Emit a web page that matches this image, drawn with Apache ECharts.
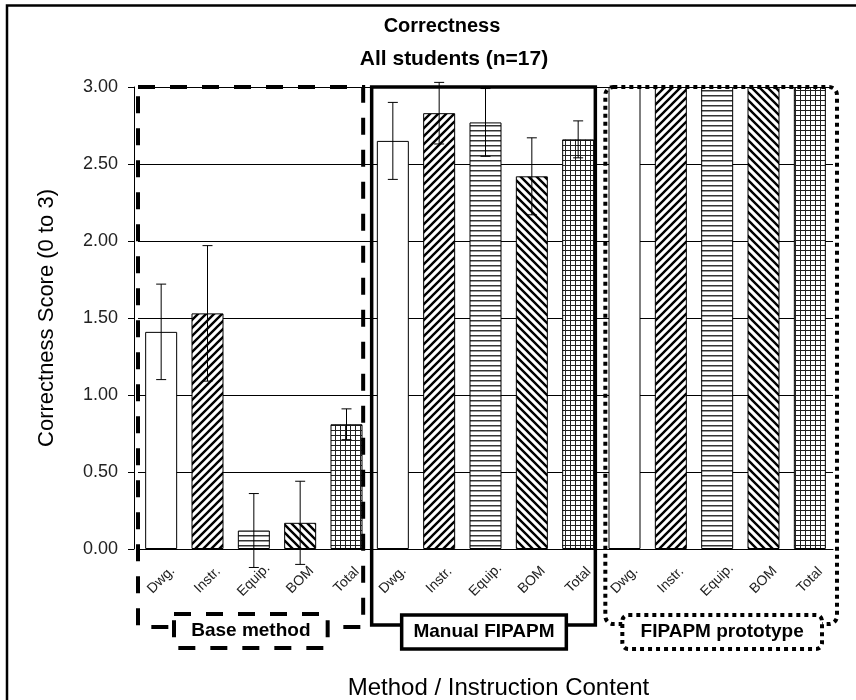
<!DOCTYPE html>
<html>
<head>
<meta charset="utf-8">
<script src="https://cdn.jsdelivr.net/npm/echarts@6/dist/echarts.min.js"></script>
<style>html,body{margin:0;padding:0;background:#fff;}#c{width:856px;height:700px;}</style>
</head>
<body>
<div id="c"></div>
<script>
// ---- data ----
const contentTypes = ['Dwg.', 'Instr.', 'Equip.', 'BOM', 'Total'];
const methods = ['Base method', 'Manual FIPAPM', 'FIPAPM prototype'];
const baseMethod = [1.41, 1.53, 0.12, 0.17, 0.81];
const manualFipapm = [2.65, 2.83, 2.77, 2.42, 2.66];
const fipapmPrototype = [3.00, 3.00, 3.00, 3.00, 3.00];
const baseErr = [0.31, 0.44, 0.24, 0.27, 0.10];
const manualErr = [0.25, 0.20, 0.22, 0.25, 0.12];
const prototypeErr = [0, 0, 0, 0, 0];
const yTicks = [0, 0.5, 1, 1.5, 2, 2.5, 3];

const categories = [].concat(contentTypes, contentTypes, contentTypes);
const means = [].concat(baseMethod, manualFipapm, fipapmPrototype);
const errs = [].concat(baseErr, manualErr, prototypeErr);

// ---- patterns ----
function makePattern(kind) {
  const c = document.createElement('canvas');
  let w = 8, h = 8;
  if (kind === 'h') { w = 4; h = 5; }
  if (kind === 'grid') { w = 5; h = 5; }
  c.width = w; c.height = h;
  const g = c.getContext('2d');
  g.fillStyle = '#fff'; g.fillRect(0, 0, w, h);
  g.strokeStyle = '#000';
  if (kind === 'fwd') {
    g.lineWidth = 2.4;
    g.beginPath();
    g.moveTo(-2, h + 2); g.lineTo(w + 2, -2);
    g.moveTo(-2, 2); g.lineTo(2, -2);
    g.moveTo(w - 2, h + 2); g.lineTo(w + 2, h - 2);
    g.stroke();
  } else if (kind === 'back') {
    g.lineWidth = 2.4;
    g.beginPath();
    g.moveTo(-2, -2); g.lineTo(w + 2, h + 2);
    g.moveTo(w - 2, -2); g.lineTo(w + 2, 2);
    g.moveTo(-2, h - 2); g.lineTo(2, h + 2);
    g.stroke();
  } else if (kind === 'h') {
    g.fillStyle = '#333';
    g.fillRect(0, 0, w, 1.5);
  } else if (kind === 'grid') {
    g.fillStyle = '#222';
    g.fillRect(0, 0, w, 1);
    g.fillRect(0, 0, 1, h);
  }
  return { image: c, repeat: 'repeat' };
}
const fills = ['#ffffff', makePattern('fwd'), makePattern('h'), makePattern('back'), makePattern('grid')];

const chart = echarts.init(document.getElementById('c'), null, { renderer: 'canvas' });

const barData = means.map((v, i) => ({
  value: v,
  itemStyle: { color: fills[i % 5], borderColor: '#000', borderWidth: 1 }
}));
const errData = means.map((v, i) => [i, v - errs[i], v + errs[i], errs[i]]);

const F = 'Liberation Sans, Arial';
const option = {
  backgroundColor: '#fff',
  animation: false,
  title: [
    { text: 'Correctness', left: 437, top: 11, textAlign: 'center',
      textStyle: { fontFamily: F, fontSize: 20, fontWeight: 'bold', color: '#000' } },
    { text: 'All students (n=17)', left: 449, top: 44, textAlign: 'center',
      textStyle: { fontFamily: F, fontSize: 21, fontWeight: 'bold', color: '#000' } }
  ],
  grid: { left: 138, right: 23, top: 87, bottom: 151, containLabel: false, outerBoundsMode: 'none' },
  xAxis: {
    type: 'category',
    data: categories,
    axisLine: { show: true, lineStyle: { color: '#000', width: 1 } },
    axisTick: { show: false },
    axisLabel: {
      interval: 0, rotate: 45, align: 'center', verticalAlign: 'middle', margin: 31,
      fontFamily: F, fontSize: 14, color: '#222'
    },
    name: 'Method / Instruction Content',
    nameLocation: 'middle',
    nameGap: 127,
    nameTextStyle: { fontFamily: F, fontSize: 24, color: '#000', padding: [0, 0, 0, 26] }
  },
  yAxis: {
    type: 'value', min: 0, max: 3, interval: 0.5,
    offset: 4,
    axisLine: { show: true, lineStyle: { color: '#000', width: 1 } },
    axisTick: { show: true, length: 6, lineStyle: { color: '#000' } },
    axisLabel: { formatter: v => v.toFixed(2), margin: 16, fontFamily: F, fontSize: 18, color: '#222' },
    splitLine: { show: true, lineStyle: { color: '#000', width: 1 } },
    name: 'Correctness Score (0 to 3)',
    nameLocation: 'middle',
    nameRotate: 90,
    nameGap: 76,
    nameTextStyle: { fontFamily: F, fontSize: 22, color: '#000' }
  },
  series: [
    {
      type: 'bar',
      data: barData,
      barWidth: 32,
      z: 2
    },
    {
      type: 'custom',
      data: errData,
      clip: false,
      z: 5,
      renderItem: function (params, api) {
        if (api.value(3) <= 0) return null;
        const i = api.value(0);
        const lo = api.coord([i, api.value(1)]);
        const hi = api.coord([i, api.value(2)]);
        const hw = 5;
        const st = { stroke: '#000', lineWidth: 1 };
        return {
          type: 'group',
          children: [
            { type: 'line', shape: { x1: lo[0], y1: lo[1], x2: hi[0], y2: hi[1] }, style: st },
            { type: 'line', shape: { x1: hi[0] - hw, y1: hi[1], x2: hi[0] + hw, y2: hi[1] }, style: st },
            { type: 'line', shape: { x1: lo[0] - hw, y1: lo[1], x2: lo[0] + hw, y2: lo[1] }, style: st }
          ]
        };
      }
    }
  ]
};
chart.setOption(option);

// ---- group boxes (annotation), positioned from axis scale ----
const cx0 = chart.convertToPixel({ xAxisIndex: 0 }, 0);
const cx1 = chart.convertToPixel({ xAxisIndex: 0 }, 1);
const bw = cx1 - cx0;
const b = i => cx0 - bw / 2 + i * bw;
const yTop = chart.convertToPixel({ yAxisIndex: 0 }, yTicks[yTicks.length - 1]);
const y0 = chart.convertToPixel({ yAxisIndex: 0 }, yTicks[0]);

const lblFont = 'bold 19px "Liberation Sans", Arial';
function box(x1, y1, x2, y2, dash, lw, r, fill, z) {
  return {
    type: 'rect', z: z, silent: true,
    shape: { x: x1, y: y1, width: x2 - x1, height: y2 - y1, r: r || 0 },
    style: { fill: fill || 'none', stroke: '#000', lineWidth: lw, lineDash: dash }
  };
}
function label(x1, y1, x2, y2, dash, lw, r, txt) {
  return [
    box(x1, y1, x2, y2, dash, lw, r, '#fff', 60),
    { type: 'text', z: 61, silent: true, x: (x1 + x2) / 2, y: (y1 + y2) / 2,
      style: { text: txt, font: lblFont, fill: '#000', align: 'center', verticalAlign: 'middle' } }
  ];
}
const dashed = [17, 15], dotted = [4, 4];
const graphics = [
  { type: 'rect', z: 0, silent: true, shape: { x: 7, y: 5.5, width: 1000, height: 1000 },
    style: { fill: 'none', stroke: '#000', lineWidth: 2.5 } },
  box(b(0), yTop, b(5) - 6.5, y0 + 78, dashed, 4, 0, null, 50),
  ...label(b(0) + 36, y0 + 65, b(5) - 42, y0 + 99, dashed, 4, 0, methods[0]),
  box(b(5) + 2, yTop, b(10) - 6, y0 + 76, null, 3.5, 0, null, 50),
  ...label(b(5) + 32, y0 + 66, b(10) - 35, y0 + 100, null, 3.5, 0, methods[1]),
  box(b(10) + 4, yTop, b(15) + 4, y0 + 75, dotted, 4, 8, null, 50),
  ...label(b(10) + 21, y0 + 66, b(15) - 11, y0 + 100, dotted, 4, 6, methods[2])
];
chart.setOption({ graphic: graphics });
</script>
</body>
</html>
